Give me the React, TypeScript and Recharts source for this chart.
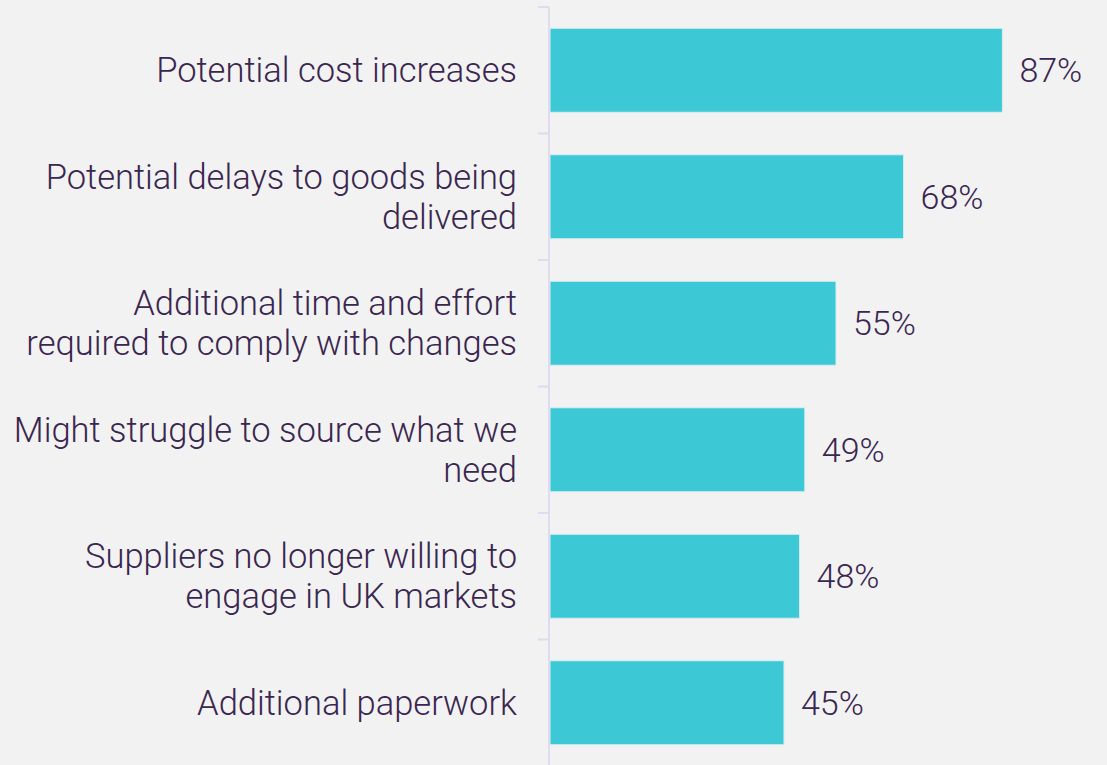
import { BarChart, Bar, XAxis, YAxis, LabelList } from 'recharts'

const categories = [
  'Potential cost increases',
  'Potential delays to goods being\ndelivered',
  'Additional time and effort\nrequired to comply with changes',
  'Might struggle to source what we\nneed',
  'Suppliers no longer willing to\nengage in UK markets',
  'Additional paperwork',
]

const values = [87, 68, 55, 49, 48, 45]

const xDomain = [0, 100]

const TEXT = '#3a2650'
const BAR = '#3cc8d4'
const AXIS = '#e2daef'
const FONT = 'Roboto, "Noto Sans", sans-serif'

const chartData = categories.map((name, i) => ({ name, value: values[i] }))

// label plus a tick mark at the band's top edge (and bottom edge for the last one)
function CategoryTick(props: any) {
  const { x, y, payload, height, visibleTicksCount, index } = props
  const lines: string[] = String(payload.value).split('\n')
  const lineHeight = 40
  const startY = y - ((lines.length - 1) * lineHeight) / 2
  const band = Number(height) / Number(visibleTicksCount)
  const isLast = index === visibleTicksCount - 1
  return (
    <g>
      {Number.isFinite(band) && (
        <line x1={x - 4} x2={x + 7} y1={y - band / 2} y2={y - band / 2} stroke={AXIS} strokeWidth={2} />
      )}
      {Number.isFinite(band) && isLast && (
        <line x1={x - 4} x2={x + 7} y1={y + band / 2} y2={y + band / 2} stroke={AXIS} strokeWidth={2} />
      )}
      <text
        x={x - 25}
        y={startY}
        textAnchor="end"
        dominantBaseline="central"
        fill={TEXT}
        fontSize={34.5}
        fontWeight={300}
        fontFamily={FONT}
      >
        {lines.map((line, i) => (
          <tspan key={i} x={x - 25} y={startY + i * lineHeight}>
            {line}
          </tspan>
        ))}
      </text>
    </g>
  )
}

export default function App() {
  return (
    <div
      style={{
        position: 'fixed',
        left: 0,
        top: 0,
        width: 1107,
        height: 765,
        background: '#f2f2f2',
        overflow: 'hidden',
      }}
    >
      <BarChart
        width={1107}
        height={765}
        data={chartData}
        layout="vertical"
        margin={{ top: 7, right: 37, left: 0, bottom: -1 }}
        barCategoryGap="16.8%"
      >
        <XAxis type="number" domain={xDomain} hide />
        <YAxis
          type="category"
          dataKey="name"
          width={1}
          axisLine={false}
          tickLine={false}
          tick={<CategoryTick />}
          interval={0}
        />
        <YAxis
          yAxisId="line"
          type="category"
          dataKey="name"
          width={549}
          tick={false}
          tickLine={false}
          axisLine={{ stroke: AXIS, strokeWidth: 2 }}
        />
        <Bar dataKey="value" fill={BAR} stroke="#d9eef2" strokeWidth={1} isAnimationActive={false}>
          <LabelList
            dataKey="value"
            position="right"
            offset={17}
            formatter={(v: any) => `${v}%`}
            fill={TEXT}
            fontSize={34}
            fontWeight={300}
            fontFamily={FONT}
          />
        </Bar>
      </BarChart>
    </div>
  )
}
